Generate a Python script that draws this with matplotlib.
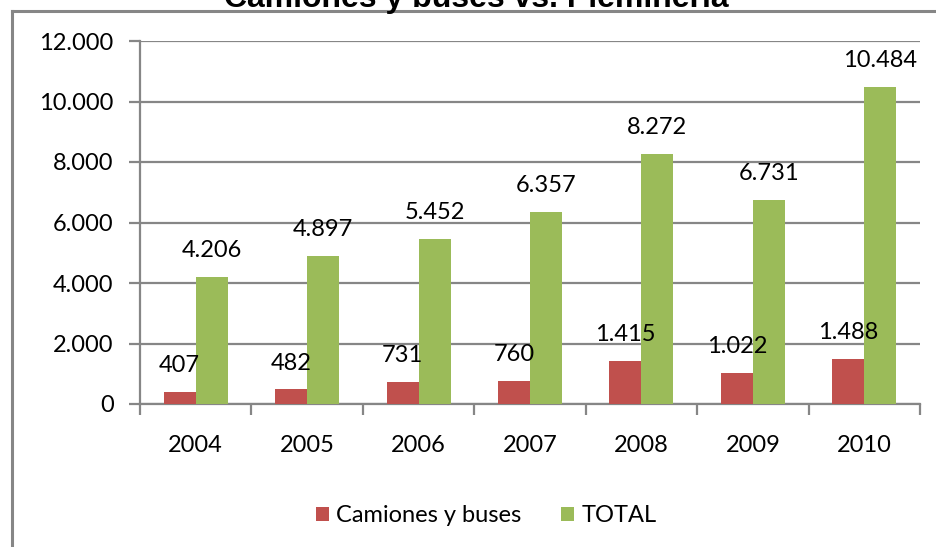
import matplotlib
matplotlib.use("Agg")
import matplotlib.pyplot as plt
from matplotlib.lines import Line2D
import numpy as np

years = ["2004", "2005", "2006", "2007", "2008", "2009", "2010"]
camiones = [407, 482, 731, 760, 1415, 1022, 1488]
total = [4206, 4897, 5452, 6357, 8272, 6731, 10484]
y_ticks = [0, 2000, 4000, 6000, 8000, 10000, 12000]

RED = "#C0504D"
GREEN = "#9BBB59"
GRID = "#868686"
FONT = ["Lato", "DejaVu Sans"]
FS = 17


def fmt(v):
    return f"{v:,}".replace(",", ".")


fig = plt.figure(figsize=(9.37, 5.47), dpi=100)
ax = fig.add_axes([140 / 937, 1 - 404 / 547, 780 / 937, 363 / 547])

x = np.arange(len(years))
w = 0.287
b1 = ax.bar(x - w / 2, camiones, w, color=RED, label="Camiones y buses", zorder=3)
b2 = ax.bar(x + w / 2, total, w, color=GREEN, label="TOTAL", zorder=3)

for bars, vals in ((b1, camiones), (b2, total)):
    for r, v in zip(bars, vals):
        ax.annotate(fmt(v), (r.get_x() + r.get_width() / 2, v),
                    xytext=(0, 19), textcoords="offset points",
                    ha="center", va="center", fontsize=FS, family=FONT,
                    color="black", zorder=4)

ax.set_xlim(-0.5, len(years) - 0.5)
ax.set_ylim(0, 12000)
ax.set_yticks(y_ticks)
ax.set_yticklabels([fmt(t) for t in y_ticks], family=FONT, fontsize=FS)
ax.yaxis.grid(True, color=GRID, linewidth=1.6, zorder=0)
ax.set_axisbelow(True)

# category labels centred, tick marks on category boundaries
ax.set_xticks(x)
ax.set_xticklabels(years, family=FONT, fontsize=FS)
ax.tick_params(axis="x", which="major", length=0, pad=22)
ax.set_xticks(np.arange(-0.5, len(years), 1.0), minor=True)
ax.tick_params(axis="x", which="minor", length=8, width=1.6, color=GRID, direction="out")
ax.tick_params(axis="y", length=8, width=1.6, color=GRID, pad=11)

for s in ("top", "right"):
    ax.spines[s].set_visible(False)
for s in ("left", "bottom"):
    ax.spines[s].set_color(GRID)
    ax.spines[s].set_linewidth(1.6)

fig.legend(handles=[b1, b2], loc="center", bbox_to_anchor=(486 / 937, 1 - 516 / 547),
           ncol=2, frameon=False, prop={"family": FONT, "size": FS},
           handlelength=0.55, handleheight=0.55, handletextpad=0.3, columnspacing=1.7)

# outer chart frame (top and left edges)
fig.add_artist(Line2D([12 / 937, 1.0], [1 - 11 / 547, 1 - 11 / 547], color=GRID,
                      linewidth=2.2, transform=fig.transFigure))
fig.add_artist(Line2D([12 / 937, 12 / 937], [0.0, 1 - 11 / 547], color=GRID,
                      linewidth=2.2, transform=fig.transFigure))

fig.text(476 / 937, 1 - 7 / 547, "Camiones y buses vs. Plemineria", ha="center",
         va="baseline", fontsize=23, fontweight="bold", family=["Liberation Sans", "DejaVu Sans"])

fig.savefig("out.png", dpi=100)
